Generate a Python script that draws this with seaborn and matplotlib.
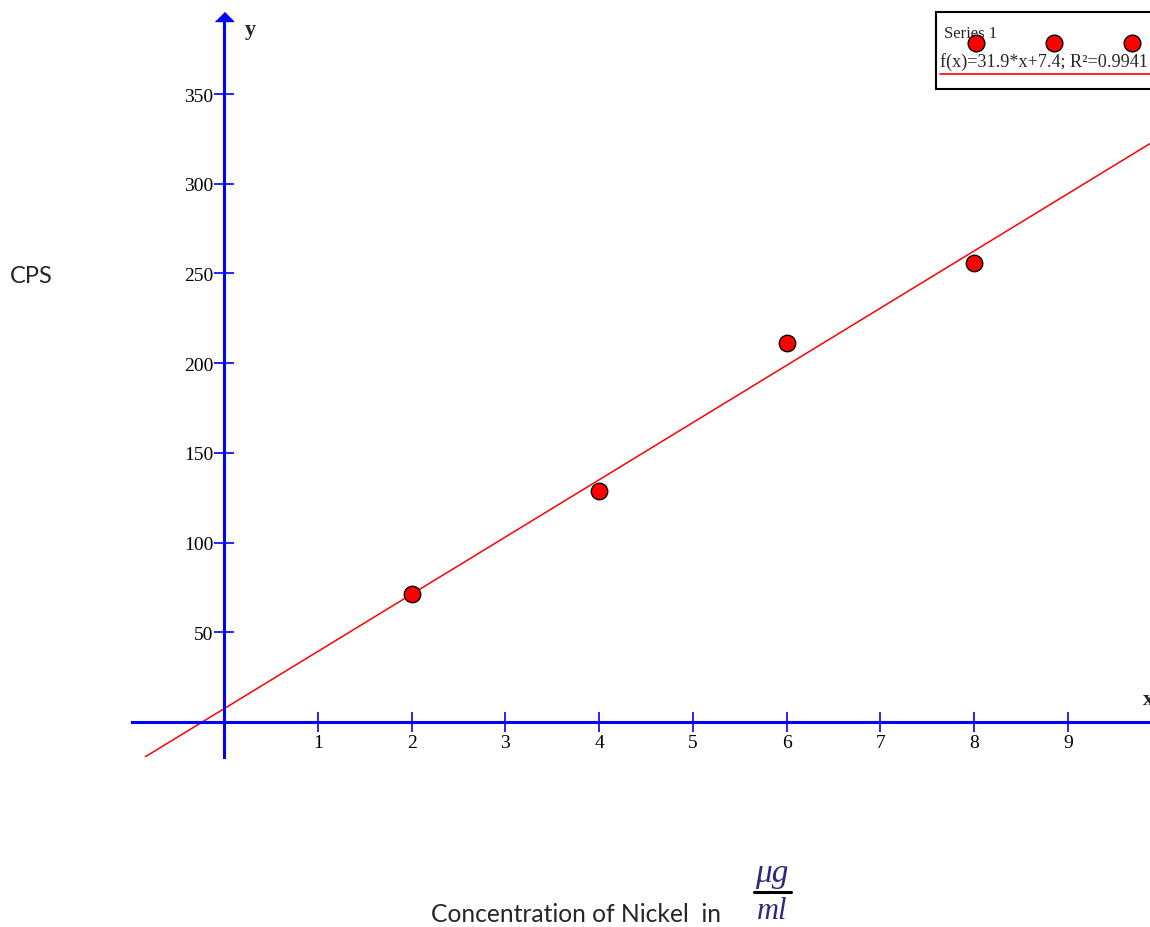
import numpy as np
import pandas as pd
import matplotlib.pyplot as plt
import seaborn as sns
from matplotlib.patches import Rectangle
from matplotlib.lines import Line2D

# Calibration data
conc = [2, 4, 6, 8]
cps = [71.5, 128.5, 211, 256]

# Linear fit shown in the legend
slope, intercept = 31.9, 7.4
r_squared = 0.9941
fit_ends = [-0.84, 9.87]

x_ticks = [1, 2, 3, 4, 5, 6, 7, 8, 9]
y_ticks = [50, 100, 150, 200, 250, 300, 350]

df = pd.DataFrame({'conc': conc, 'cps': cps})
fit = pd.DataFrame({'x': fit_ends, 'y': [slope * x + intercept for x in fit_ends]})

sns.set_style("white")
plt.rcParams['font.family'] = ['Liberation Serif', 'DejaVu Serif']

W, H = 1150, 928
fig = plt.figure(figsize=(W / 100, H / 100), dpi=100)
ax = fig.add_axes([132 / W, 1 - 758 / H, (W - 132) / W, (758 - 22) / H])

sns.lineplot(data=fit, x='x', y='y', color='red', linewidth=1.1, ax=ax)
sns.scatterplot(data=df, x='conc', y='cps', s=140, color='red',
                edgecolor='black', linewidth=1, zorder=5, ax=ax)

ax.set_xlim(-0.981, 9.874)
ax.set_ylim(-19.5, 390.7)
ax.set_xlabel('')
ax.set_ylabel('')
ax.set_xticks(x_ticks)
ax.set_yticks(y_ticks)

# axes through the origin, blue
for side in ['top', 'right']:
    ax.spines[side].set_visible(False)
ax.spines['left'].set_position(('data', 0))
ax.spines['bottom'].set_position(('data', 0))
for side in ['left', 'bottom']:
    ax.spines[side].set_color('blue')
    ax.spines[side].set_linewidth(2.2)
ax.tick_params(bottom=True, left=True, direction='inout', length=15,
               width=1.2, color='blue', labelsize=14, labelcolor='black')
ax.tick_params(axis='y', pad=0)
ax.tick_params(axis='x', pad=1)

# arrow head on the y axis
ax.plot([0], [1], marker=[(-1, 0), (1, 0), (0, 1)], ms=13, color='blue',
        transform=ax.get_xaxis_transform(), clip_on=False)

fig.text(245 / W, 1 - 30 / H, 'y', fontsize=16, fontweight='bold', va='center')
fig.text(1143 / W, 1 - 700 / H, 'x', fontsize=16, fontweight='bold', va='center')

# axis titles
fig.text(10 / W, 1 - 277 / H, 'CPS', family=['Lato', 'DejaVu Sans'],
         fontsize=17, va='center', ha='left')
fig.text(576 / W, 1 - 915 / H, 'Concentration of Nickel  in',
         family=['Lato', 'DejaVu Sans'], fontsize=17.7, va='center', ha='center')
fig.text(772 / W, 1 - 874 / H, 'μg', fontsize=24, style='italic',
         color='#2a2a80', va='center', ha='center')
fig.text(772 / W, 1 - 912 / H, 'ml', fontsize=22, style='italic',
         color='#2a2a80', va='center', ha='center')
fig.add_artist(Line2D([754 / W, 791 / W], [1 - 893 / H] * 2, color='black',
                      lw=2.2, transform=fig.transFigure))

# legend box
fig.add_artist(Rectangle((936 / W, 1 - 90 / H), (W + 10 - 936) / W, 77 / H,
                         facecolor='white', edgecolor='black', lw=1.5,
                         transform=fig.transFigure, zorder=10))
fig.text(944 / W, 1 - 34 / H, 'Series 1', fontsize=12, va='center', zorder=11)
fig.add_artist(Line2D([976 / W, 1054 / W, 1132 / W], [1 - 44 / H] * 3,
                      marker='o', ls='none', ms=12, mfc='red', mec='black',
                      mew=1, transform=fig.transFigure, zorder=12))
fig.text(940 / W, 1 - 62 / H,
         f'f(x)={slope}*x+{intercept}; R²={r_squared}',
         fontsize=13.1, va='center', zorder=11)
fig.add_artist(Line2D([940 / W, 1.0], [1 - 75 / H] * 2, color='red', lw=1.2,
                      transform=fig.transFigure, zorder=11))

fig.savefig('out.png', dpi=100)
